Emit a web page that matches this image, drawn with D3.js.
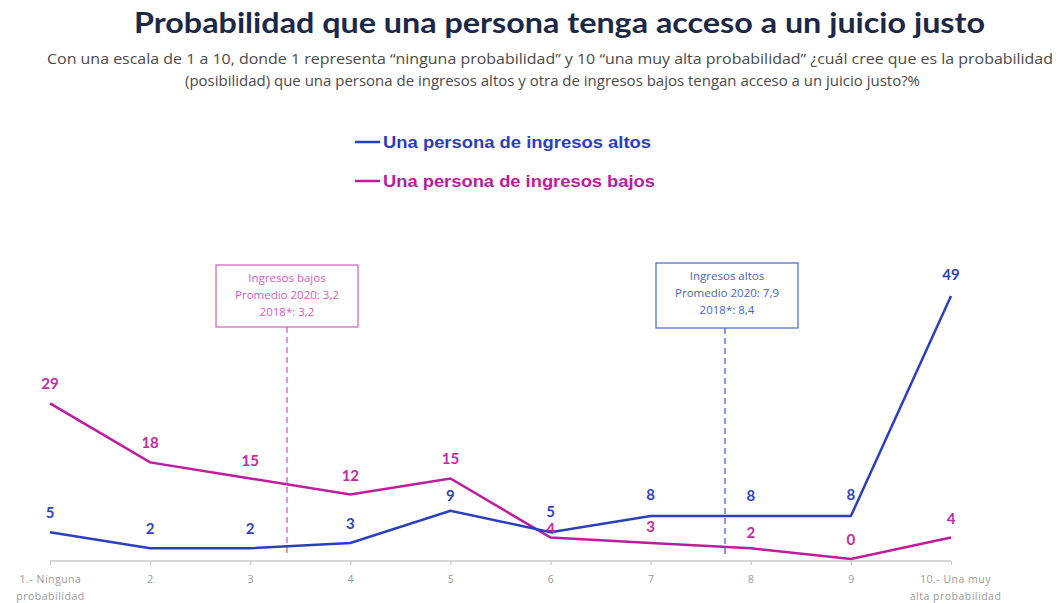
<!DOCTYPE html>
<html><head><meta charset="utf-8">
<script src="https://cdn.jsdelivr.net/npm/d3@7/dist/d3.min.js"></script>
<style>body{margin:0;background:#fff;}svg{display:block;}</style>
</head><body>
<svg id="c" width="1058" height="603"></svg>
<script>
const categories = ["1.- Ninguna\nprobabilidad","2","3","4","5","6","7","8","9","10.- Una muy\nalta probabilidad"];
const altos = [5,2,2,3,9,5,8,8,8,49];
const bajos = [29,18,15,12,15,4,3,2,0,4];
const seriesNames = ["Una persona de ingresos altos","Una persona de ingresos bajos"];
const titleText = "Probabilidad que una persona tenga acceso a un juicio justo";
const subtitleLines = ["Con una escala de 1 a 10, donde 1 representa “ninguna probabilidad” y 10 “una muy alta probabilidad” ¿cuál cree que es la probabilidad",
  "(posibilidad) que una persona de ingresos altos y otra de ingresos bajos tengan acceso a un juicio justo?%"];
const annotBajos = ["Ingresos bajos","Promedio 2020: 3,2","2018*: 3,2"];
const annotAltos = ["Ingresos altos","Promedio 2020: 7,9","2018*: 8,4"];

const BLUE = "#2a3fbd", MAG = "#c01a9f";
const svg = d3.select("#c");

// title
svg.append("text").attr("x",134).attr("y",33).attr("textLength",851).attr("lengthAdjust","spacingAndGlyphs")
  .attr("font-family","Lato, 'Open Sans', sans-serif").attr("font-weight","bold").attr("font-size",29)
  .attr("fill","#1c2847").text(titleText);
svg.append("text").attr("x",47).attr("y",64).attr("textLength",1006).attr("lengthAdjust","spacingAndGlyphs")
  .attr("font-family","'Open Sans', Lato, sans-serif").attr("font-size",15).attr("fill","#4a4a4a").text(subtitleLines[0]);
svg.append("text").attr("x",185).attr("y",86).attr("textLength",735).attr("lengthAdjust","spacingAndGlyphs")
  .attr("font-family","'Open Sans', Lato, sans-serif").attr("font-size",15).attr("fill","#4a4a4a").text(subtitleLines[1]);

// legend
const leg = [{c:BLUE,y:142,w:268},{c:MAG,y:181,w:272}];
leg.forEach((l,i)=>{
  svg.append("line").attr("x1",355).attr("x2",380).attr("y1",l.y).attr("y2",l.y).attr("stroke",l.c).attr("stroke-width",2.5);
  svg.append("text").attr("x",383).attr("y",l.y+5.5).attr("textLength",l.w).attr("lengthAdjust","spacingAndGlyphs")
    .attr("font-family","'Liberation Sans', Arial, sans-serif").attr("font-weight","bold").attr("font-size",16)
    .attr("fill",l.c).text(seriesNames[i]);
});

// scales
const x = d3.scalePoint().domain(d3.range(categories.length)).range([50,951]);
const y = d3.scaleLinear().domain([0,49]).range([559,296]);

// axis
const axisG = svg.append("g").attr("transform","translate(0,561)");
const ax = d3.axisBottom(x).tickSize(4).tickFormat("");
axisG.call(ax);
axisG.select(".domain").attr("stroke","#c8c8c8").attr("stroke-width",1.5).attr("d","M50,0H951");
axisG.selectAll(".tick line").attr("stroke","#c8c8c8").attr("stroke-width",1.2);
axisG.selectAll(".tick").each(function(d){
  const lines = categories[d].split("\n");
  const t = d3.select(this).append("text").attr("fill","#9a9a9a").attr("font-family","'Open Sans', sans-serif")
    .attr("font-size",10.5).attr("text-anchor","middle").attr("letter-spacing",0.5);
  lines.forEach((s,j)=>t.append("tspan").attr("x",d===9?4:0).attr("y",22+j*17).text(s));
});

// annotation boxes
function annot(lines, color, bx, by, bw, bh, lx, ly2){
  svg.append("line").attr("x1",lx).attr("x2",lx).attr("y1",by+bh).attr("y2",ly2)
    .attr("stroke",color).attr("stroke-width",1.3).attr("stroke-dasharray","6,4");
  svg.append("rect").attr("x",bx).attr("y",by).attr("width",bw).attr("height",bh)
    .attr("fill","#fff").attr("stroke",color).attr("stroke-width",1.2);
  lines.forEach((s,j)=>svg.append("text").attr("x",bx+bw/2).attr("y",by+17+j*17).attr("text-anchor","middle")
    .attr("font-family","'Open Sans', sans-serif").attr("font-size",11.5).attr("fill",color).text(s));
}
annot(annotBajos, "#d35cc0", 216, 265, 142, 62, 287, 553);
annot(annotAltos, "#4a64c8", 656, 263, 142, 65, 725, 555);

// lines
const line = d3.line().x((d,i)=>x(i)).y(d=>y(d));
svg.append("path").datum(bajos).attr("d",line).attr("fill","none").attr("stroke",MAG).attr("stroke-width",2.5);
svg.append("path").datum(altos).attr("d",line).attr("fill","none").attr("stroke",BLUE).attr("stroke-width",2.5);

// labels
function labels(data,color,offsets,size){
  svg.append("g").selectAll("text").data(data).join("text")
    .attr("x",(d,i)=>x(i)).attr("y",(d,i)=>y(d)-offsets[i])
    .attr("text-anchor","middle").attr("font-family","Lato, 'Open Sans', sans-serif").attr("font-weight","bold")
    .attr("font-size",size).attr("fill",color).text(d=>d);
}
labels(altos, "#2f45bf", [14,14,14,14,10,15,16,15,16,16], 15);
labels(bajos, "#c42aa4", [14,14,12,14,14,4,11,10,14,14], 15);
</script>
</body></html>
